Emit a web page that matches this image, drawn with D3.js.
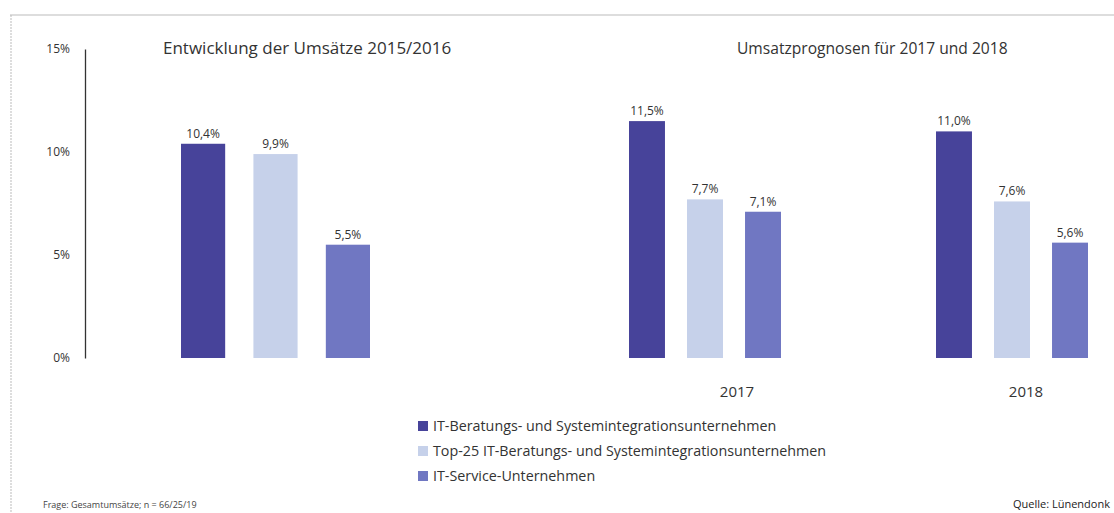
<!DOCTYPE html>
<html>
<head>
<meta charset="utf-8">
<script src="https://cdn.jsdelivr.net/npm/d3@7"></script>
<style>
  body { margin: 0; background: #fff; }
  svg { display: block; font-family: "Open Sans", "Noto Sans", sans-serif; }
</style>
</head>
<body>
<div id="chart"></div>
<script>
// data
var series = [
  "IT-Beratungs- und Systemintegrationsunternehmen",
  "Top-25 IT-Beratungs- und Systemintegrationsunternehmen",
  "IT-Service-Unternehmen"
];
var groups = ["2015/2016", "2017", "2018"];
var values2016 = [10.4, 9.9, 5.5];
var values2017 = [11.5, 7.7, 7.1];
var values2018 = [11.0, 7.6, 5.6];
var yTicks = [0, 5, 10, 15];
var colors = ["#47439a", "#c6d1ea", "#7077c2"];

var width = 1114, height = 513;

var svg = d3.select("#chart").append("svg")
    .attr("width", width)
    .attr("height", height);

// frame of the scanned page
svg.append("line").attr("x1", 10).attr("x2", width).attr("y1", 15).attr("y2", 15)
    .attr("stroke", "#bbb").attr("stroke-width", 1);
svg.append("line").attr("x1", 11).attr("x2", 11).attr("y1", 15).attr("y2", height)
    .attr("stroke", "#bbb").attr("stroke-width", 1).attr("stroke-dasharray", "2,1");

var y = d3.scaleLinear().domain([0, 15]).range([358, 49]);

// Y axis: just the line and labels
var yAxis = svg.append("g")
    .attr("transform", "translate(85,0)")
    .call(d3.axisLeft(y).tickValues(yTicks).tickSize(0).tickPadding(15)
        .tickFormat(function(d) { return d + "%"; }));
yAxis.select(".domain").attr("stroke", "#333").attr("stroke-width", 1.3);
yAxis.selectAll("text").attr("font-size", 12).attr("fill", "#333")
    .attr("font-family", "'Open Sans', sans-serif");

// one band scale per group
var groupRanges = { "2015/2016": [181, 370], "2017": [629, 781], "2018": [936, 1088] };
var groupValues = { "2015/2016": values2016, "2017": values2017, "2018": values2018 };

groups.forEach(function(g) {
    var x = d3.scaleBand().domain(series).range(groupRanges[g])
        .paddingInner(g === "2015/2016" ? 0.39 : 0.38).paddingOuter(0);
    var data = series.map(function(s, i) { return { s: s, v: groupValues[g][i], c: colors[i] }; });

    var gg = svg.append("g");
    gg.selectAll("rect").data(data).enter().append("rect")
        .attr("x", function(d) { return x(d.s); })
        .attr("y", function(d) { return y(d.v); })
        .attr("width", x.bandwidth())
        .attr("height", function(d) { return y(0) - y(d.v); })
        .attr("fill", function(d) { return d.c; });

    gg.selectAll("text").data(data).enter().append("text")
        .attr("x", function(d) { return x(d.s) + x.bandwidth() / 2; })
        .attr("y", function(d) { return y(d.v) - 6; })
        .attr("text-anchor", "middle")
        .attr("font-size", 12)
        .attr("fill", "#333")
        .text(function(d) { return d3.format(".1f")(d.v).replace(".", ",") + "%"; });
});

// year labels under the forecast groups
var yearLabels = [{ t: "2017", x: 737 }, { t: "2018", x: 1026 }];
svg.selectAll(".year").data(yearLabels).enter().append("text")
    .attr("x", function(d) { return d.x; })
    .attr("y", 397)
    .attr("text-anchor", "middle")
    .attr("font-size", 15)
    .attr("fill", "#333")
    .text(function(d) { return d.t; });

// titles
svg.append("text").attr("x", 163).attr("y", 54).attr("font-size", 17).attr("fill", "#333")
    .text("Entwicklung der Umsätze 2015/2016");
svg.append("text").attr("x", 737).attr("y", 54).attr("font-size", 15.6).attr("fill", "#333")
    .text("Umsatzprognosen für 2017 und 2018");

// legend
var legend = svg.append("g").attr("transform", "translate(418,420)");
legend.selectAll("rect").data(series).enter().append("rect")
    .attr("x", 0)
    .attr("y", function(d, i) { return i * 25 + 1; })
    .attr("width", 10).attr("height", 10)
    .attr("fill", function(d, i) { return colors[i]; });
legend.selectAll("text").data(series).enter().append("text")
    .attr("x", 15)
    .attr("y", function(d, i) { return i * 25 + 11; })
    .attr("font-size", 14.3)
    .attr("fill", "#333")
    .text(function(d) { return d; });

// footer
svg.append("text").attr("x", 43).attr("y", 508).attr("font-size", 9).attr("fill", "#444")
    .text("Frage: Gesamtumsätze; n = 66/25/19");
svg.append("text").attr("x", 1110).attr("y", 508).attr("font-size", 11).attr("fill", "#222")
    .attr("text-anchor", "end")
    .text("Quelle: Lünendonk");
</script>
</body>
</html>
